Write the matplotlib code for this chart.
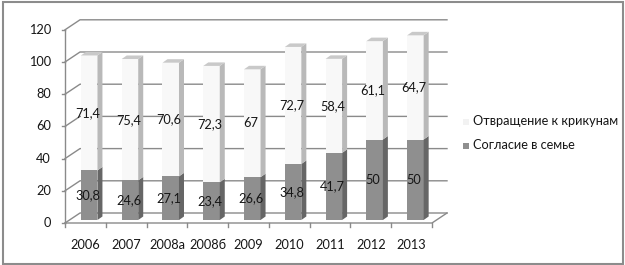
import matplotlib
matplotlib.use("Agg")
import matplotlib.pyplot as plt
from matplotlib.patches import Polygon, Rectangle
from matplotlib.transforms import ScaledTranslation

plt.rcParams['font.family'] = ['Lato', 'DejaVu Sans']

# data
years = ['2006', '2007', '2008а', '2008б', '2009', '2010', '2011', '2012', '2013']
soglasie = [30.8, 24.6, 27.1, 23.4, 26.6, 34.8, 41.7, 50, 50]
otvrash = [71.4, 75.4, 70.6, 72.3, 67, 72.7, 58.4, 61.1, 64.7]
labels_low = ['30,8', '24,6', '27,1', '23,4', '26,6', '34,8', '41,7', '50', '50']
labels_high = ['71,4', '75,4', '70,6', '72,3', '67', '72,7', '58,4', '61,1', '64,7']
yticks = [0, 20, 40, 60, 80, 100, 120]

dark_front, dark_side = '#8f8f8f', '#666666'
light_front, light_side, light_top = '#f8f8f8', '#b9b9b9', '#c9c9c9'
gridc = '#8a8a8a'
txt = '#161616'
fs = 9.2

fig = plt.figure(figsize=(6.25, 2.65), dpi=100)
fig.patch.set_facecolor('white')
# outer frame like the excel chart border
fig.add_artist(Rectangle((0.004, 0.004), 0.992, 0.989, transform=fig.transFigure,
                         fill=False, edgecolor='#8c8c8c', linewidth=1.5))

ax = fig.add_axes([65 / 625, 42 / 265, 367 / 625, 193.2 / 265])
n = len(years)
ax.set_xlim(0, n)
ax.set_ylim(0, 120)
ax.axis('off')

# pixel -> data scale
p0 = ax.transData.transform((0, 0))
p1 = ax.transData.transform((1, 1))
px_x = p1[0] - p0[0]
px_y = p1[1] - p0[1]

# wall depth (px)
wx, wy = 15 / px_x, 10 / px_y

# back wall gridlines + left wall diagonals
for v in yticks:
    ax.plot([0, wx, n + wx], [v, v + wy, v + wy], color=gridc, lw=1, zorder=1,
            clip_on=False)
# floor
ax.plot([0, n, n + wx], [0, 0, wy], color=gridc, lw=1, zorder=1, clip_on=False)
# front y axis and ticks
ax.plot([0, 0], [0, 120], color=gridc, lw=1, zorder=2, clip_on=False)
for v in yticks:
    ax.plot([0, -3 / px_x], [v, v], color=gridc, lw=1, clip_on=False)
    ax.text(-14 / px_x, v, str(v), ha='right', va='center', fontsize=fs,
            color=txt)
# x ticks
for i in range(n + 1):
    ax.plot([i, i], [0, -4 / px_y], color=gridc, lw=1, clip_on=False)
for i, yr in enumerate(years):
    ax.text(i + 0.5, -22 / px_y, yr, ha='center', va='center', fontsize=fs,
            color=txt)

# bars with fake 3d
shift = ax.transData + ScaledTranslation(3.8 / 100, 3 / 100, fig.dpi_scale_trans)
bw = 16.5 / px_x
bdx, bdy = 5 / px_x, 3.5 / px_y
xs = [i + 0.5 for i in range(n)]

ax.bar(xs, soglasie, width=bw, color=dark_front, transform=shift, zorder=3)
ax.bar(xs, otvrash, width=bw, bottom=soglasie, color=light_front,
       transform=shift, zorder=3)

for x, a, b in zip(xs, soglasie, otvrash):
    xr = x + bw / 2
    xl = x - bw / 2
    ax.add_patch(Polygon([(xr, 0), (xr + bdx, bdy), (xr + bdx, a + bdy), (xr, a)],
                         closed=True, facecolor=dark_side, edgecolor='none',
                         transform=shift, zorder=3))
    ax.add_patch(Polygon([(xr, a), (xr + bdx, a + bdy), (xr + bdx, a + b + bdy),
                          (xr, a + b)], closed=True, facecolor=light_side,
                         edgecolor='none', transform=shift, zorder=3))
    ax.add_patch(Polygon([(xl, a + b), (xl + bdx, a + b + bdy),
                          (xr + bdx, a + b + bdy), (xr, a + b)], closed=True,
                         facecolor=light_top, edgecolor='none', transform=shift,
                         zorder=3))

for x, a, b, la, lb in zip(xs, soglasie, otvrash, labels_low, labels_high):
    ax.text(x - 1.5 / px_x, a / 2, la, ha='center', va='center', fontsize=fs,
            color=txt, transform=shift, zorder=5)
    ax.text(x - 1.5 / px_x, a + b / 2, lb, ha='center', va='center', fontsize=fs,
            color=txt, transform=shift, zorder=5)

# legend
fig.add_artist(Rectangle((463 / 625, 1 - 125 / 265), 6 / 625, 6 / 265,
                         transform=fig.transFigure, facecolor='#f2f2f2',
                         edgecolor='none'))
fig.text(473 / 625, 1 - 121 / 265, 'Отвращение к крикунам', ha='left',
         va='center', fontsize=fs, color=txt)
fig.add_artist(Rectangle((463 / 625, 1 - 149 / 265), 6 / 625, 6 / 265,
                         transform=fig.transFigure, facecolor=dark_front,
                         edgecolor='none'))
fig.text(473 / 625, 1 - 145 / 265, 'Согласие в семье', ha='left',
         va='center', fontsize=fs, color=txt)

fig.savefig('out.png', dpi=100, facecolor='white')
